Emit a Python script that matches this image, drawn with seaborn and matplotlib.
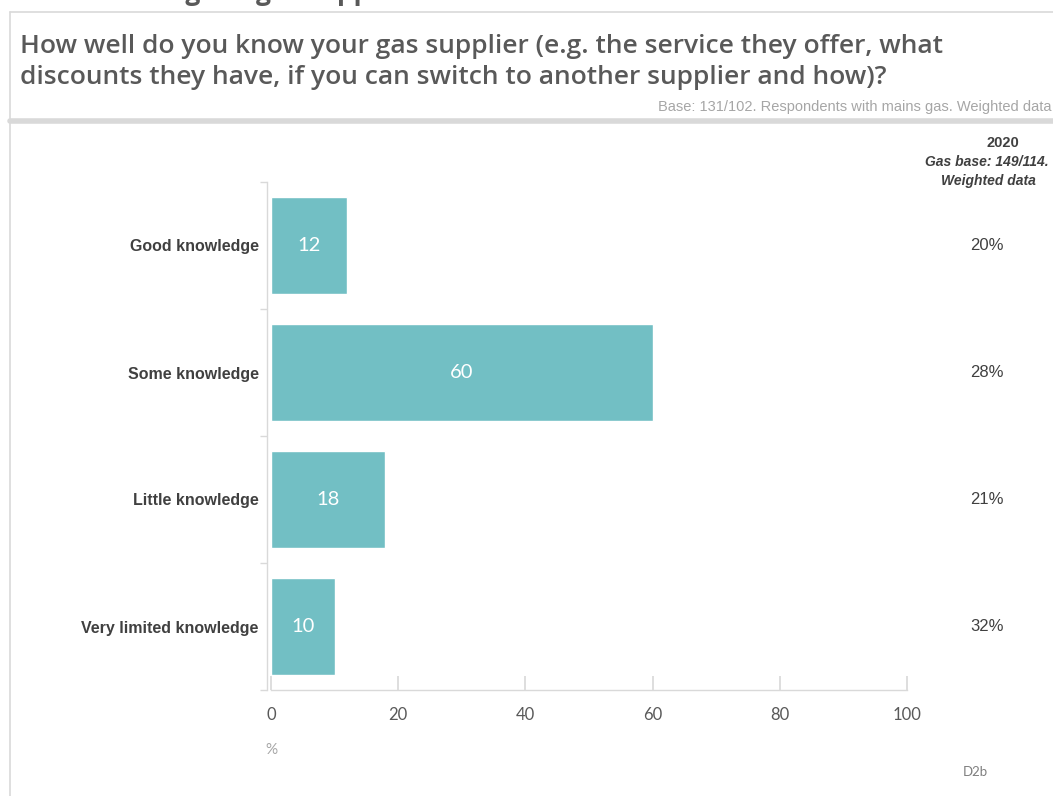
import matplotlib
matplotlib.use("Agg")
import matplotlib.pyplot as plt
from matplotlib.lines import Line2D
import seaborn as sns
import pandas as pd

categories = ["Good knowledge", "Some knowledge", "Little knowledge", "Very limited knowledge"]
values = [12, 60, 18, 10]
values_2020 = ["20%", "28%", "21%", "32%"]
x_ticks = [0, 20, 40, 60, 80, 100]

sns.set_theme(style="white")
plt.rcParams["font.family"] = ["Liberation Sans", "DejaVu Sans"]

df = pd.DataFrame({"category": categories, "value": values})

W, H = 1053, 796
fig = plt.figure(figsize=(W / 100, H / 100), dpi=100)

def fx(px):
    return px / W

def fy(py):
    return 1 - py / H

ax = fig.add_axes([fx(271), fy(690), fx(907) - fx(271), fy(182) - fy(690)])

bar_color = "#72BFC4"
sns.barplot(data=df, x="value", y="category", orient="h", color=bar_color,
            width=0.77, saturation=1, ax=ax)
ax.set_xlim(0, 100)
ax.set_ylim(3.5, -0.5)
ax.set_xlabel("")
ax.set_ylabel("")

# value labels inside the bars
for i, v in enumerate(values):
    ax.text(v / 2, i, f"{v}", ha="center", va="center", color="white",
            fontsize=14.5, family=["Lato", "DejaVu Sans"])

# axes styling
for side in ["top", "right"]:
    ax.spines[side].set_visible(False)
for side in ["left", "bottom"]:
    ax.spines[side].set_color("#d9d9d9")
    ax.spines[side].set_linewidth(1.0)
ax.spines["left"].set_position(("outward", 3))

ax.set_xticks(x_ticks)
ax.set_xticklabels([str(t) for t in x_ticks], family=["Lato", "DejaVu Sans"],
                   fontsize=12, color="#595959")
ax.tick_params(axis="x", direction="in", length=10, color="#d9d9d9", pad=12, bottom=True)
ax.set_yticks([-0.5, 0.5, 1.5, 2.5, 3.5], minor=True)
ax.tick_params(axis="y", which="minor", direction="out", length=5, color="#d9d9d9", left=True)
ax.tick_params(axis="y", which="major", length=0, pad=6)
for lbl in ax.get_yticklabels():
    lbl.set_fontweight("bold")
    lbl.set_fontsize(11.5)
    lbl.set_color("#404040")

# right-hand comparison column, aligned to the bar rows
col_x = fx(987)
for i, s in enumerate(values_2020):
    y_disp = ax.transData.transform((0, i))[1]
    y_fig = fig.transFigure.inverted().transform((0, y_disp))[1]
    fig.text(col_x, y_fig, s, ha="center", va="center", fontsize=12, color="#404040")

fig.text(fx(1003), fy(143), "2020", ha="center", va="center", fontsize=10.5,
         fontweight="bold", color="#404040")
fig.text(fx(1049), fy(162), "Gas base: 149/114.", ha="right", va="center",
         fontsize=10, fontweight="bold", style="italic", color="#404040")
fig.text(fx(1036), fy(181), "Weighted data", ha="right", va="center",
         fontsize=10, fontweight="bold", style="italic", color="#404040")

# header frame
fig.add_artist(Line2D([fx(10), fx(10)], [fy(12), 0], color="#d9d9d9", lw=1.2))
fig.add_artist(Line2D([fx(10), 1], [fy(12), fy(12)], color="#d9d9d9", lw=1.2))
fig.add_artist(Line2D([fx(10), 1], [fy(121), fy(121)], color="#d9d9d9", lw=4))

fig.text(fx(4), fy(-7), "C 3.3 Knowledge of gas supplier", ha="left", va="center",
         fontsize=19, fontweight="bold", color="#595959", family=["Open Sans", "DejaVu Sans"])
fig.text(fx(20), fy(62), "How well do you know your gas supplier (e.g. the service they offer, what\n"
         "discounts they have, if you can switch to another supplier and how)?",
         ha="left", va="center", fontsize=19, fontweight="semibold", color="#595959",
         linespacing=1.3, family=["Open Sans", "DejaVu Sans"])
fig.text(fx(1051), fy(107), "Base: 131/102. Respondents with mains gas. Weighted data",
         ha="right", va="center", fontsize=10.5, color="#a6a6a6")

fig.text(fx(265), fy(750), "%", ha="left", va="center", fontsize=11, color="#a6a6a6",
         family=["Lato", "DejaVu Sans"])
fig.text(fx(975), fy(772), "D2b", ha="center", va="center", fontsize=9.5, color="#7f7f7f",
         family=["Lato", "DejaVu Sans"])

fig.savefig("out.png", dpi=100)
